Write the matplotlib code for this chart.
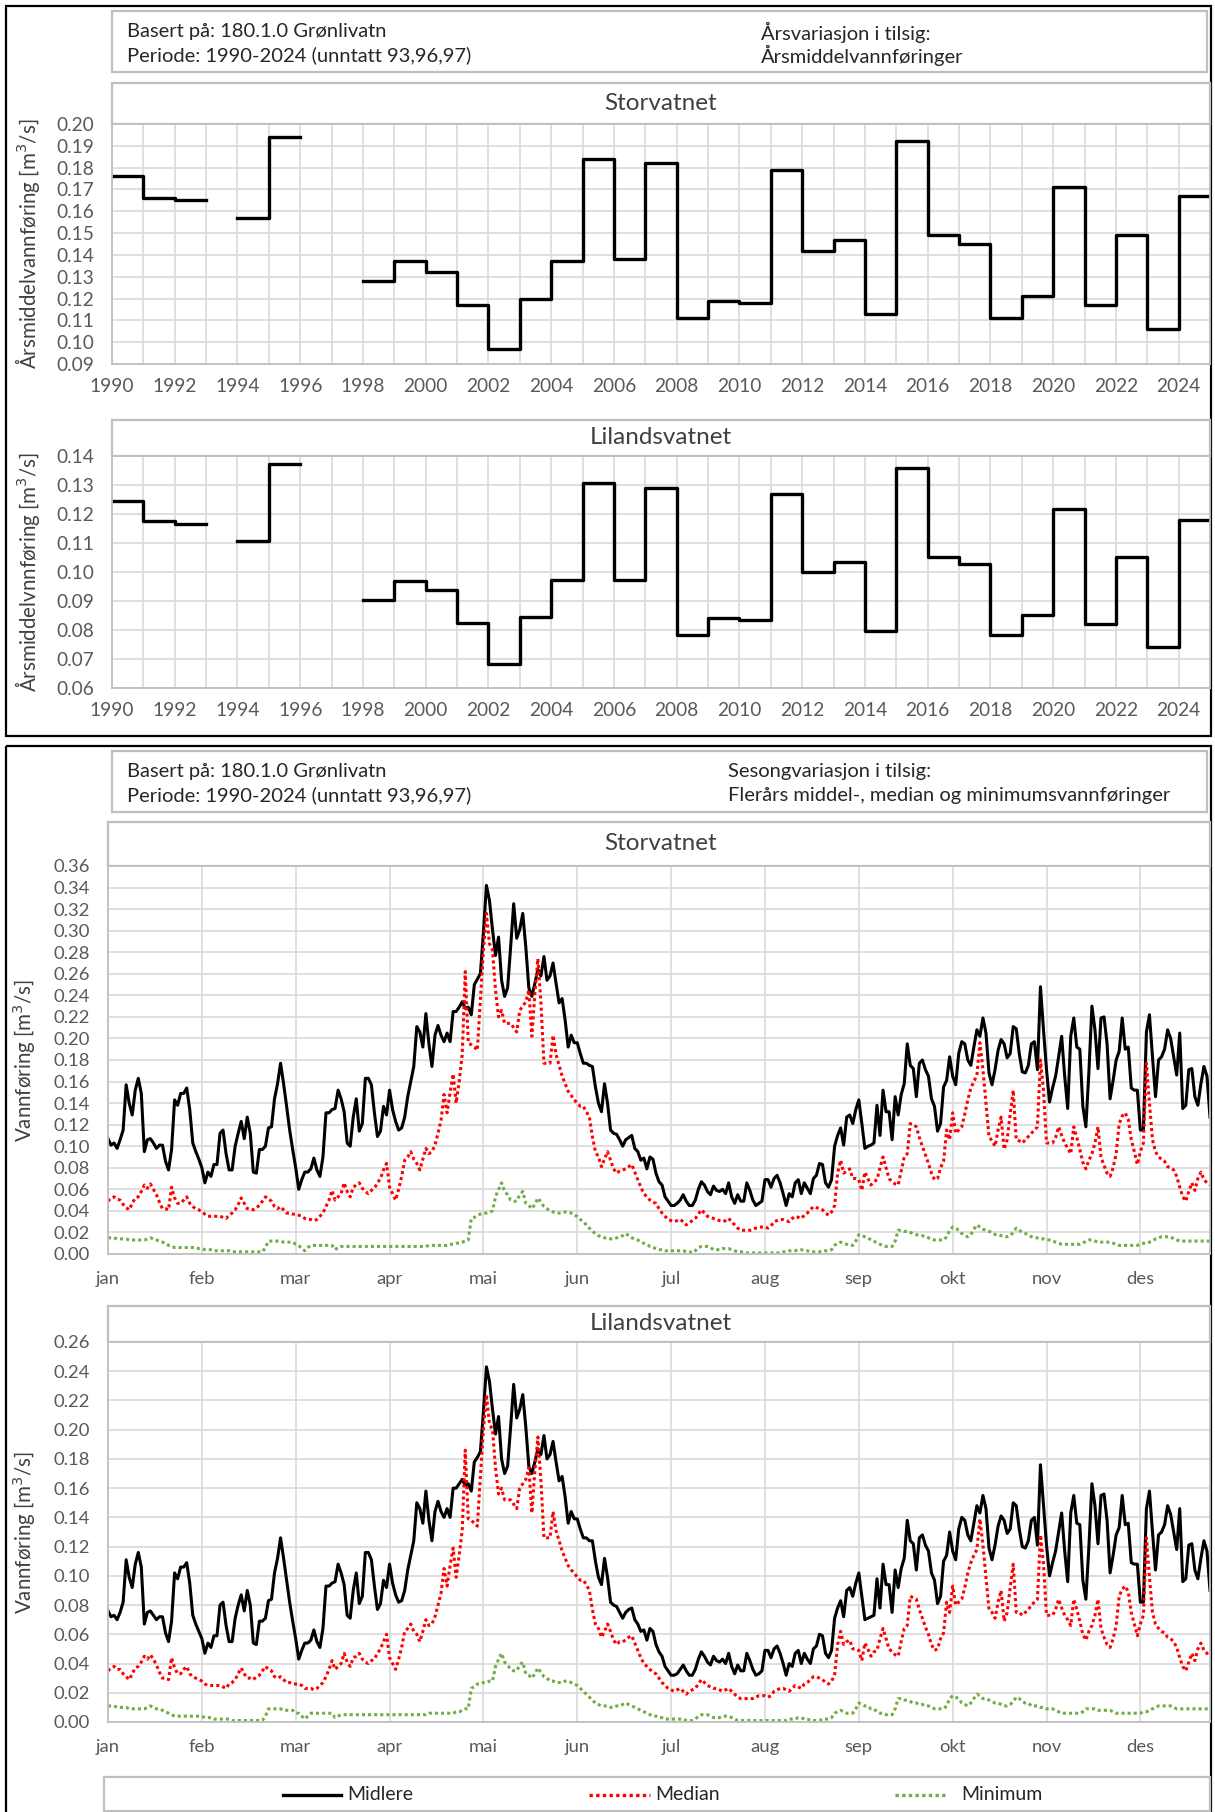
import numpy as np
import matplotlib
matplotlib.use("Agg")
import matplotlib.pyplot as plt
from matplotlib.patches import Rectangle

W, H = 1215, 1812
plt.rcParams["font.family"] = ["Lato", "DejaVu Sans"]

TXT = "#262626"
TICK = "#595959"
GRID = "#d9d9d9"
EDGE = "#bfbfbf"

nan = np.nan

# ---- annual mean inflow [m3/s], NaN = year left out ------------------------
years = list(range(1990, 2025))
annual_storvatnet = [0.176, 0.166, 0.165, nan, 0.157, 0.194, nan, nan, 0.128, 0.137,
                     0.132, 0.117, 0.097, 0.120, 0.137, 0.184, 0.138, 0.182, 0.111, 0.119,
                     0.118, 0.179, 0.142, 0.147, 0.113, 0.192, 0.149, 0.145, 0.111, 0.121,
                     0.171, 0.117, 0.149, 0.106, 0.167]
annual_lilandsvatnet = [0.1245, 0.1176, 0.1167, nan, 0.1108, 0.1374, nan, nan, 0.0903, 0.0969,
                        0.0937, 0.0824, 0.0682, 0.0845, 0.0972, 0.1306, 0.0974, 0.1291, 0.0782, 0.0842,
                        0.0834, 0.1269, 0.1000, 0.1036, 0.0795, 0.1360, 0.1053, 0.1027, 0.0782, 0.0852,
                        0.1216, 0.0822, 0.1053, 0.0742, 0.1181]

# ---- seasonal variation, day 1..365, values in l/s -------------------------
months = ["jan", "feb", "mar", "apr", "mai", "jun", "jul", "aug", "sep", "okt", "nov", "des"]

sto_mean = [
    107, 101, 103, 98, 106, 115, 157, 140, 129, 152,
    163, 149, 95, 106, 107, 103, 98, 101, 101, 86,
    78, 97, 143, 138, 149, 149, 154, 134, 103, 95,
    88, 80, 66, 76, 72, 83, 83, 112, 115, 93,
    78, 78, 100, 112, 123, 107, 127, 112, 76, 75,
    97, 97, 100, 117, 118, 144, 158, 177, 158, 137,
    115, 97, 80, 60, 69, 76, 76, 79, 89, 78,
    72, 90, 131, 131, 134, 135, 152, 144, 132, 103,
    100, 127, 144, 114, 121, 163, 163, 157, 131, 109,
    114, 137, 129, 152, 134, 123, 115, 117, 127, 146,
    160, 174, 211, 206, 192, 223, 195, 174, 203, 212,
    203, 197, 205, 197, 225, 225, 229, 234, 228, 229,
    222, 250, 255, 260, 298, 342, 328, 301, 277, 294,
    254, 239, 247, 285, 325, 293, 301, 316, 285, 247,
    239, 251, 264, 258, 276, 254, 258, 270, 251, 233,
    237, 217, 192, 203, 196, 196, 186, 177, 177, 175,
    174, 155, 140, 132, 158, 140, 115, 112, 111, 106,
    100, 106, 108, 110, 98, 95, 87, 89, 79, 90,
    88, 75, 67, 64, 53, 49, 45, 45, 47, 50,
    55, 49, 45, 45, 50, 60, 67, 64, 58, 55,
    63, 59, 58, 60, 56, 66, 53, 47, 55, 49,
    49, 66, 59, 50, 45, 47, 49, 69, 69, 62,
    70, 73, 66, 56, 45, 56, 53, 66, 69, 56,
    66, 61, 56, 70, 73, 84, 83, 66, 62, 69,
    100, 110, 117, 101, 127, 129, 121, 134, 143, 121,
    98, 100, 101, 103, 138, 110, 152, 132, 132, 106,
    146, 129, 148, 158, 195, 175, 172, 146, 177, 180,
    171, 165, 144, 137, 114, 121, 155, 161, 183, 165,
    157, 186, 197, 195, 180, 175, 192, 208, 202, 219,
    205, 168, 157, 171, 189, 199, 195, 182, 186, 211,
    209, 186, 169, 168, 175, 195, 197, 171, 248, 208,
    171, 141, 154, 165, 183, 202, 165, 135, 202, 219,
    192, 190, 137, 118, 169, 230, 208, 172, 219, 220,
    195, 144, 161, 180, 188, 219, 190, 192, 154, 152,
    152, 115, 115, 206, 222, 183, 146, 180, 183, 190,
    208, 200, 183, 166, 205, 135, 138, 171, 172, 146,
    138, 158, 174, 165, 127]

sto_median = [
    49, 52, 53, 51, 50, 46, 43, 41, 47, 52,
    53, 58, 64, 61, 65, 60, 55, 48, 42, 42,
    41, 62, 52, 47, 47, 50, 53, 47, 44, 42,
    41, 39, 37, 35, 35, 35, 35, 35, 34, 33,
    36, 38, 41, 46, 52, 47, 42, 42, 41, 43,
    45, 49, 53, 51, 49, 44, 42, 44, 41, 38,
    38, 37, 37, 36, 35, 33, 32, 32, 31, 32,
    35, 38, 44, 50, 59, 50, 53, 56, 66, 58,
    53, 62, 64, 66, 61, 58, 56, 59, 61, 66,
    70, 78, 84, 62, 56, 50, 60, 72, 87, 90,
    95, 88, 84, 78, 88, 98, 93, 95, 101, 112,
    124, 148, 131, 150, 167, 140, 160, 185, 262, 196,
    194, 192, 189, 236, 282, 316, 288, 282, 245, 220,
    226, 214, 214, 214, 210, 206, 226, 230, 234, 245,
    202, 242, 274, 233, 177, 177, 177, 203, 185, 175,
    165, 158, 151, 147, 143, 140, 137, 137, 132, 127,
    109, 95, 90, 81, 88, 95, 87, 79, 75, 77,
    78, 79, 81, 83, 76, 69, 62, 56, 53, 50,
    48, 47, 42, 38, 35, 32, 31, 30, 31, 32,
    30, 27, 29, 31, 33, 37, 41, 38, 35, 34,
    33, 32, 31, 30, 31, 33, 30, 27, 24, 22,
    22, 22, 22, 23, 24, 25, 25, 25, 24, 26,
    30, 31, 32, 32, 31, 30, 33, 35, 34, 33,
    36, 38, 41, 44, 43, 42, 41, 38, 36, 39,
    45, 75, 87, 75, 77, 79, 70, 70, 69, 59,
    76, 70, 64, 67, 69, 80, 90, 80, 70, 67,
    65, 64, 77, 90, 93, 121, 120, 118, 108, 100,
    92, 84, 75, 69, 70, 80, 86, 115, 106, 131,
    112, 115, 118, 130, 143, 154, 160, 166, 196, 171,
    140, 109, 105, 100, 115, 127, 97, 106, 130, 152,
    106, 105, 103, 106, 109, 112, 115, 118, 180, 152,
    103, 103, 103, 108, 118, 110, 103, 98, 93, 118,
    108, 97, 85, 79, 87, 93, 103, 118, 90, 82,
    75, 72, 80, 93, 121, 128, 131, 125, 106, 95,
    83, 95, 103, 177, 140, 106, 95, 90, 88, 86,
    81, 80, 78, 72, 62, 53, 49, 58, 66, 59,
    70, 76, 69, 66, 64]

sto_min = [
    15, 15, 15, 14, 14, 14, 14, 13, 13, 13,
    13, 13, 13, 14, 15, 14, 13, 12, 11, 10,
    8, 7, 6, 6, 6, 6, 6, 6, 6, 6,
    5, 5, 4, 4, 4, 3, 3, 3, 3, 3,
    3, 2, 2, 2, 2, 2, 2, 2, 2, 2,
    2, 2, 6, 12, 12, 12, 12, 12, 11, 11,
    11, 11, 9, 8, 5, 3, 6, 8, 8, 8,
    8, 8, 8, 8, 8, 4, 6, 7, 7, 7,
    7, 7, 7, 7, 7, 7, 7, 7, 7, 7,
    7, 7, 7, 7, 7, 7, 7, 7, 7, 7,
    7, 7, 7, 7, 7, 7, 8, 8, 8, 8,
    8, 8, 8, 9, 9, 10, 10, 11, 12, 13,
    33, 34, 36, 37, 38, 38, 39, 40, 53, 60,
    66, 58, 55, 50, 49, 49, 55, 58, 47, 45,
    42, 46, 52, 48, 44, 42, 40, 39, 38, 38,
    38, 39, 39, 38, 36, 35, 32, 30, 27, 24,
    21, 19, 17, 16, 15, 15, 14, 14, 15, 16,
    17, 19, 17, 15, 14, 13, 11, 10, 9, 7,
    6, 5, 4, 4, 3, 3, 3, 3, 3, 3,
    3, 2, 2, 1, 3, 6, 7, 7, 7, 6,
    4, 4, 4, 5, 5, 5, 4, 3, 2, 2,
    2, 1, 1, 1, 1, 1, 1, 1, 1, 1,
    1, 1, 1, 2, 2, 3, 3, 3, 4, 4,
    3, 3, 2, 2, 2, 2, 3, 3, 3, 4,
    8, 10, 11, 10, 9, 8, 8, 12, 18, 17,
    16, 15, 13, 12, 10, 9, 8, 7, 7, 7,
    12, 22, 22, 21, 21, 20, 19, 18, 17, 17,
    16, 15, 14, 13, 13, 13, 13, 16, 22, 25,
    24, 22, 19, 17, 16, 18, 23, 27, 25, 23,
    22, 21, 20, 18, 18, 17, 16, 16, 17, 20,
    24, 22, 20, 19, 18, 16, 15, 15, 14, 14,
    13, 13, 12, 11, 10, 9, 9, 9, 9, 9,
    9, 9, 10, 12, 13, 13, 12, 11, 11, 11,
    11, 11, 10, 9, 8, 8, 8, 8, 8, 8,
    8, 9, 10, 10, 11, 12, 14, 15, 16, 16,
    16, 16, 14, 13, 12, 12, 12, 12, 12, 12,
    12, 12, 12, 12, 12]

lil_mean = [
    76, 72, 73, 70, 75, 82, 111, 99, 92, 108,
    116, 106, 67, 75, 76, 73, 70, 72, 72, 61,
    55, 69, 102, 98, 106, 106, 109, 95, 73, 67,
    62, 57, 47, 54, 51, 59, 59, 80, 82, 66,
    55, 55, 71, 80, 87, 76, 90, 80, 54, 53,
    69, 69, 71, 83, 84, 102, 112, 126, 112, 97,
    82, 69, 57, 43, 49, 54, 54, 56, 63, 55,
    51, 64, 93, 93, 95, 96, 108, 102, 94, 73,
    71, 90, 102, 81, 86, 116, 116, 111, 93, 77,
    81, 97, 92, 108, 95, 87, 82, 83, 90, 104,
    114, 124, 150, 146, 136, 158, 138, 124, 144, 151,
    144, 140, 146, 140, 160, 160, 163, 166, 162, 163,
    158, 178, 181, 185, 212, 243, 233, 214, 197, 209,
    180, 170, 175, 202, 231, 208, 214, 224, 202, 175,
    170, 178, 187, 183, 196, 180, 183, 192, 178, 165,
    168, 154, 136, 144, 139, 139, 132, 126, 126, 124,
    124, 110, 99, 94, 112, 99, 82, 80, 79, 75,
    71, 75, 77, 78, 70, 67, 62, 63, 56, 64,
    62, 53, 48, 45, 38, 35, 32, 32, 33, 36,
    39, 35, 32, 32, 36, 43, 48, 45, 41, 39,
    45, 42, 41, 43, 40, 47, 38, 33, 39, 35,
    35, 47, 42, 36, 32, 33, 35, 49, 49, 44,
    50, 52, 47, 40, 32, 40, 38, 47, 49, 40,
    47, 43, 40, 50, 52, 60, 59, 47, 44, 49,
    71, 78, 83, 72, 90, 92, 86, 95, 102, 86,
    70, 71, 72, 73, 98, 78, 108, 94, 94, 75,
    104, 92, 105, 112, 138, 124, 122, 104, 126, 128,
    121, 117, 102, 97, 81, 86, 110, 114, 130, 117,
    111, 132, 140, 138, 128, 124, 136, 148, 143, 155,
    146, 119, 111, 121, 134, 141, 138, 129, 132, 150,
    148, 132, 120, 119, 124, 138, 140, 121, 176, 148,
    121, 100, 109, 117, 130, 143, 117, 96, 143, 155,
    136, 135, 97, 84, 120, 163, 148, 122, 155, 156,
    138, 102, 114, 128, 133, 155, 135, 136, 109, 108,
    108, 82, 82, 146, 158, 130, 104, 128, 130, 135,
    148, 142, 130, 118, 146, 96, 98, 121, 122, 104,
    98, 112, 124, 117, 90]

lil_median = [
    35, 37, 38, 36, 36, 33, 31, 29, 33, 37,
    38, 41, 45, 43, 46, 43, 39, 34, 30, 30,
    29, 44, 37, 33, 33, 36, 38, 33, 31, 30,
    29, 28, 26, 25, 25, 25, 25, 25, 24, 23,
    26, 27, 29, 33, 37, 33, 30, 30, 29, 31,
    32, 35, 38, 36, 35, 31, 30, 31, 29, 27,
    27, 26, 26, 26, 25, 23, 23, 23, 22, 23,
    25, 27, 31, 36, 42, 36, 38, 40, 47, 41,
    38, 44, 45, 47, 43, 41, 40, 42, 43, 47,
    50, 55, 60, 44, 40, 36, 43, 51, 62, 64,
    67, 62, 60, 55, 62, 70, 66, 67, 72, 80,
    88, 105, 93, 107, 119, 99, 114, 131, 186, 139,
    138, 136, 134, 168, 200, 224, 204, 200, 174, 156,
    160, 152, 152, 152, 149, 146, 160, 163, 166, 174,
    143, 172, 195, 165, 126, 126, 126, 144, 131, 124,
    117, 112, 107, 104, 102, 99, 97, 97, 94, 90,
    77, 67, 64, 58, 62, 67, 62, 56, 53, 55,
    55, 56, 58, 59, 54, 49, 44, 40, 38, 36,
    34, 33, 30, 27, 25, 23, 22, 21, 22, 23,
    21, 19, 21, 22, 23, 26, 29, 27, 25, 24,
    23, 23, 22, 21, 22, 23, 21, 19, 17, 16,
    16, 16, 16, 16, 17, 18, 18, 18, 17, 18,
    21, 22, 23, 23, 22, 21, 23, 25, 24, 23,
    26, 27, 29, 31, 31, 30, 29, 27, 26, 28,
    32, 53, 62, 53, 55, 56, 50, 50, 49, 42,
    54, 50, 45, 48, 49, 57, 64, 57, 50, 48,
    46, 45, 55, 64, 66, 86, 85, 84, 77, 71,
    65, 60, 53, 49, 50, 57, 61, 82, 75, 93,
    80, 82, 84, 92, 102, 109, 114, 118, 139, 121,
    99, 77, 75, 71, 82, 90, 69, 75, 92, 108,
    75, 75, 73, 75, 77, 80, 82, 84, 128, 108,
    73, 73, 73, 77, 84, 78, 73, 70, 66, 84,
    77, 69, 60, 56, 62, 66, 73, 84, 64, 58,
    53, 51, 57, 66, 86, 91, 93, 89, 75, 67,
    59, 67, 73, 126, 99, 75, 67, 64, 62, 61,
    58, 57, 55, 51, 44, 38, 35, 41, 47, 42,
    50, 54, 49, 47, 45]

lil_min = [
    11, 11, 11, 10, 10, 10, 10, 9, 9, 9,
    9, 9, 9, 10, 11, 10, 9, 9, 8, 7,
    6, 5, 4, 4, 4, 4, 4, 4, 4, 4,
    4, 4, 3, 3, 3, 2, 2, 2, 2, 2,
    2, 1, 1, 1, 1, 1, 1, 1, 1, 1,
    1, 1, 4, 9, 9, 9, 9, 9, 8, 8,
    8, 8, 6, 6, 4, 2, 4, 6, 6, 6,
    6, 6, 6, 6, 6, 3, 4, 5, 5, 5,
    5, 5, 5, 5, 5, 5, 5, 5, 5, 5,
    5, 5, 5, 5, 5, 5, 5, 5, 5, 5,
    5, 5, 5, 5, 5, 5, 6, 6, 6, 6,
    6, 6, 6, 6, 6, 7, 7, 8, 9, 9,
    23, 24, 26, 26, 27, 27, 28, 28, 38, 43,
    47, 41, 39, 36, 35, 35, 39, 41, 33, 32,
    30, 33, 37, 34, 31, 30, 28, 28, 27, 27,
    27, 28, 28, 27, 26, 25, 23, 21, 19, 17,
    15, 13, 12, 11, 11, 11, 10, 10, 11, 11,
    12, 13, 12, 11, 10, 9, 8, 7, 6, 5,
    4, 4, 3, 3, 2, 2, 2, 2, 2, 2,
    2, 1, 1, 1, 2, 4, 5, 5, 5, 4,
    3, 3, 3, 4, 4, 4, 3, 2, 1, 1,
    1, 1, 1, 1, 1, 1, 1, 1, 1, 1,
    1, 1, 1, 1, 1, 2, 2, 2, 3, 3,
    2, 2, 1, 1, 1, 1, 2, 2, 2, 3,
    6, 7, 8, 7, 6, 6, 6, 9, 13, 12,
    11, 11, 9, 9, 7, 6, 6, 5, 5, 5,
    9, 16, 16, 15, 15, 14, 13, 13, 12, 12,
    11, 11, 10, 9, 9, 9, 9, 11, 16, 18,
    17, 16, 13, 12, 11, 13, 16, 19, 18, 16,
    16, 15, 14, 13, 13, 12, 11, 11, 12, 14,
    17, 16, 14, 13, 13, 11, 11, 11, 10, 10,
    9, 9, 9, 8, 7, 6, 6, 6, 6, 6,
    6, 6, 7, 9, 9, 9, 9, 8, 8, 8,
    8, 8, 7, 6, 6, 6, 6, 6, 6, 6,
    6, 6, 7, 7, 8, 9, 10, 11, 11, 11,
    11, 11, 10, 9, 9, 9, 9, 9, 9, 9,
    9, 9, 9, 9, 9]

for s in (sto_mean, sto_median, sto_min, lil_mean, lil_median, lil_min):
    assert len(s) == 365, len(s)

days = np.arange(1, 366)

fig = plt.figure(figsize=(W / 100, H / 100), dpi=100)
bg = fig.add_axes([0, 0, 1, 1])
bg.set_xlim(0, W); bg.set_ylim(H, 0); bg.axis("off")


def box(x0, y0, x1, y1, ec=EDGE, lw=1.6):
    bg.add_patch(Rectangle((x0, y0), x1 - x0, y1 - y0, fill=False, ec=ec, lw=lw))


def px_axes(x0, y0, x1, y1):
    return fig.add_axes([x0 / W, 1 - y1 / H, (x1 - x0) / W, (y1 - y0) / H])


def style(ax, ylo, yhi, ystep, ypad, xpad, size):
    ax.set_ylim(ylo, yhi)
    ticks = np.arange(ylo, yhi + ystep / 2, ystep)
    ax.set_yticks(ticks)
    ax.set_yticklabels([f"{t:.2f}" for t in ticks])
    ax.grid(True, which="both", color=GRID, lw=1.2)
    ax.set_axisbelow(True)
    for s in ax.spines.values():
        s.set_color(EDGE); s.set_linewidth(1.3)
    ax.tick_params(which="both", length=0, colors=TICK, labelsize=size)
    ax.tick_params(axis="y", pad=ypad)
    ax.tick_params(axis="x", pad=xpad)


# ---- frames and header boxes -----------------------------------------------
box(6, 6, 1211, 736, ec="black", lw=1.6)
box(6, 746, 1211, 1830, ec="black", lw=1.6)

HEAD = 14.5
for y0, right_top, right_bot, xr in [(11, "Årsvariasjon i tilsig:", "Årsmiddelvannføringer", 761),
                                     (751, "Sesongvariasjon i tilsig:",
                                      "Flerårs middel-, median og minimumsvannføringer", 728)]:
    box(112, y0, 1207, y0 + 61)
    bg.text(127, y0 + 21, "Basert på: 180.1.0 Grønlivatn", fontsize=HEAD, color=TXT, va="center")
    bg.text(127, y0 + 44, "Periode: 1990-2024 (unntatt 93,96,97)", fontsize=HEAD, color=TXT, va="center")
    bg.text(xr, y0 + 21, right_top, fontsize=HEAD, color=TXT, va="center")
    bg.text(xr, y0 + 44, right_bot, fontsize=HEAD, color=TXT, va="center")

# ---- annual charts ---------------------------------------------------------
annual = [("Storvatnet", annual_storvatnet, 83, 124, 364, 0.09, 0.20),
          ("Lilandsvatnet", annual_lilandsvatnet, 420, 456, 688, 0.06, 0.14)]
for name, vals, tbox, top, bot, ylo, yhi in annual:
    box(112, tbox, 1210, top)
    bg.text(661, (tbox + top) / 2, name, fontsize=17.5, color="#404040", ha="center", va="center")
    ax = px_axes(112, top, 1210, bot)
    ax.step(years + [2025], vals + [vals[-1]], where="post", color="black", lw=2.4)
    ax.set_xlim(1990, 2025)
    ax.set_xticks(range(1990, 2025, 2))
    ax.set_xticks(range(1990, 2026), minor=True)
    style(ax, ylo, yhi, 0.01, 13, 10, 13.8)
    bg.text(28, (top + bot) / 2, "Årsmiddelvannføring [m$^3$/s]" if name == "Storvatnet"
            else "Årsmiddelvnnføring [m$^3$/s]", rotation=90, fontsize=14.8,
            color="#404040", ha="center", va="center")

# ---- seasonal charts -------------------------------------------------------
month_start = [1 + 31 * k for k in range(12)]
seasonal = [("Storvatnet", sto_mean, sto_median, sto_min, 822, 866, 1254, 0.36),
            ("Lilandsvatnet", lil_mean, lil_median, lil_min, 1306, 1342, 1722, 0.26)]
for name, mean, median, minimum, tbox, top, bot, yhi in seasonal:
    box(108, tbox, 1210, top)
    bg.text(661, (tbox + top) / 2, name, fontsize=17.5, color="#404040", ha="center", va="center")
    ax = px_axes(108, top, 1210, bot)
    ax.plot(days, np.array(mean) / 1000, color="black", lw=2.2, label="Midlere")
    ax.plot(days, np.array(median) / 1000, color="#ff0000", lw=2.2, ls=(0, (1, 1)), label="Median")
    ax.plot(days, np.array(minimum) / 1000, color="#70ad47", lw=2.2, ls=(0, (1, 1)), label="Minimum")
    ax.set_xlim(1, 365)
    ax.set_xticks(month_start)
    ax.set_xticklabels(months)
    style(ax, 0.0, yhi, 0.02, 13, 12, 13.3)
    bg.text(24, (top + bot) / 2, "Vannføring [m$^3$/s]", rotation=90, fontsize=14.8,
            color="#404040", ha="center", va="center")

# ---- legend ----------------------------------------------------------------
box(104, 1777, 1210, 1811)
legend_items = [("Midlere", "black", "-", 283, 341, 347),
                ("Median", "#ff0000", (0, (1, 1)), 589, 650, 655),
                ("Minimum", "#70ad47", (0, (1, 1)), 895, 947, 961)]
for label, color, ls, xa, xb, xt in legend_items:
    bg.plot([xa, xb], [1795, 1795], color=color, ls=ls, lw=2.4)
    bg.text(xt, 1795, label, fontsize=14, color=TXT, va="center")

fig.savefig("out.png", dpi=100)
